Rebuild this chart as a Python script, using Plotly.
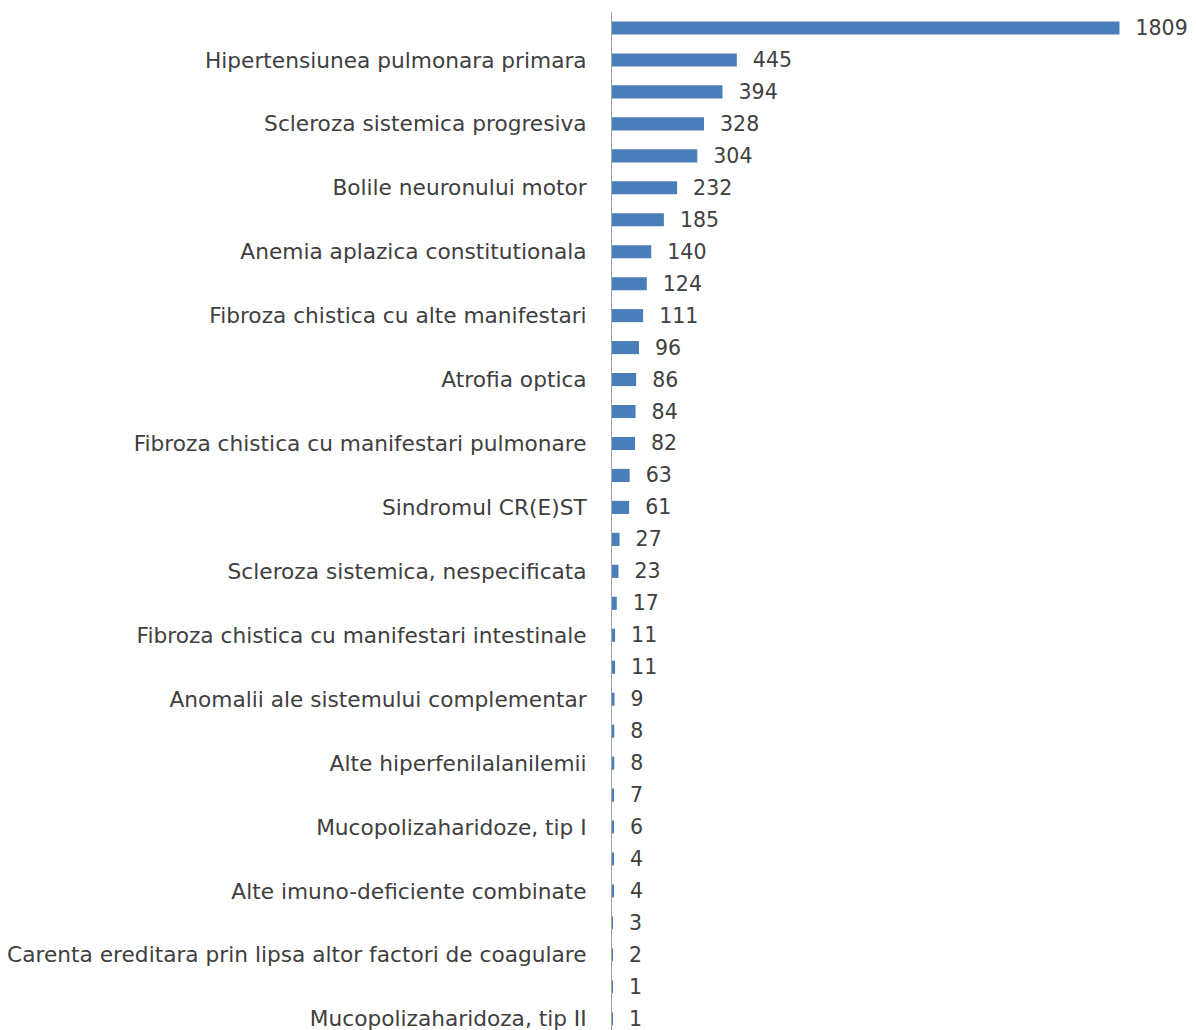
import plotly.graph_objects as go

# Categories listed top to bottom; only every other label is visible in the source chart
labels_shown = [
    "Hipertensiunea pulmonara primara",
    "Scleroza sistemica progresiva",
    "Bolile neuronului motor",
    "Anemia aplazica constitutionala",
    "Fibroza chistica cu alte manifestari",
    "Atrofia optica",
    "Fibroza chistica cu manifestari pulmonare",
    "Sindromul CR(E)ST",
    "Scleroza sistemica, nespecificata",
    "Fibroza chistica cu manifestari intestinale",
    "Anomalii ale sistemului complementar",
    "Alte hiperfenilalanilemii",
    "Mucopolizaharidoze, tip I",
    "Alte imuno-deficiente combinate",
    "Carenta ereditara prin lipsa altor factori de coagulare",
    "Mucopolizaharidoza, tip II",
]
# hidden (unlabelled) categories sit above each visible one
hidden = ["(categoria %d)" % (i + 1) for i in range(16)]
categories = []
for h, s in zip(hidden, labels_shown):
    categories += [h, s]

values = [1809, 445, 394, 328, 304, 232, 185, 140, 124, 111, 96, 86, 84, 82,
          63, 61, 27, 23, 17, 11, 11, 9, 8, 8, 7, 6, 4, 4, 3, 2, 1, 1]

NB = "\u00a0"
FONT = "DejaVu Sans"
fig = go.Figure(go.Bar(
    x=values, y=categories, orientation="h",
    marker=dict(color="#4A7EBB", line=dict(width=0)),
    text=[NB * 2 + str(v) for v in values],
    textposition="outside", cliponaxis=False, constraintext="none",
    textfont=dict(family=FONT, size=20.5, color="#404040"),
))

fig.update_layout(
    width=1196, height=1030,
    margin=dict(l=612, r=51, t=12, b=0, autoexpand=False),
    plot_bgcolor="white", paper_bgcolor="white",
    bargap=0.59, showlegend=False,
    font=dict(family=FONT, size=21.7, color="#404040"),
)
fig.update_xaxes(range=[0, 1900], visible=False, showgrid=False, zeroline=False)
fig.update_yaxes(
    type="category", range=[31.35, -0.5],
    tickmode="array", tickvals=labels_shown, ticktext=labels_shown,
    showline=True, linecolor="#A6A6A6", linewidth=1,
    ticks="", ticklabelstandoff=20, showgrid=False,
    tickfont=dict(family=FONT, size=21.7, color="#404040"),
)

fig.write_html("out.html", config={"displayModeBar": False},
               post_script="document.body.style.margin='0';")
